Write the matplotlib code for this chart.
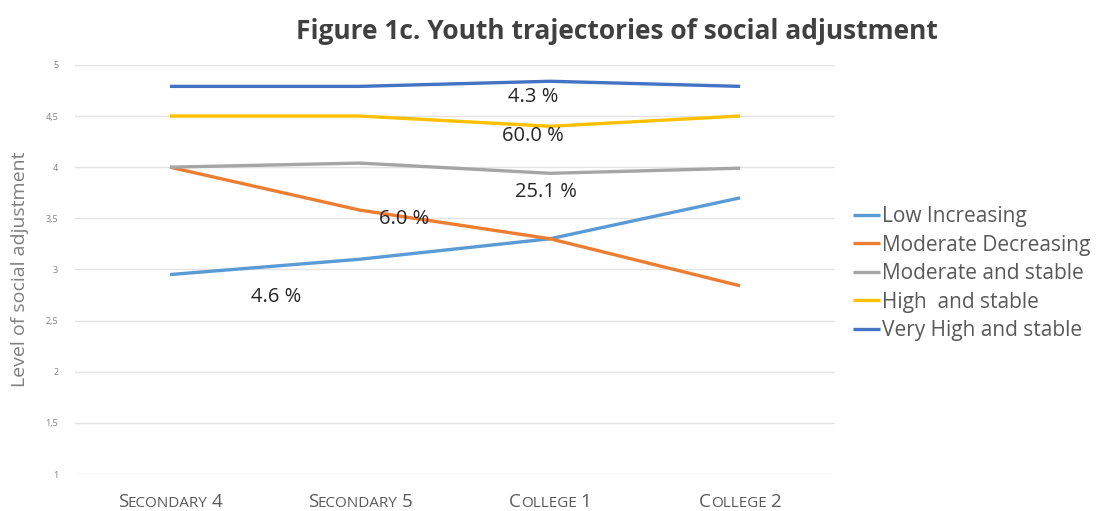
import matplotlib.pyplot as plt
from matplotlib.transforms import IdentityTransform

# data
waves = ["Secondary 4", "Secondary 5", "College 1", "College 2"]
low_increasing = [2.95, 3.10, 3.30, 3.70]
moderate_decreasing = [4.00, 3.58, 3.30, 2.84]
moderate_stable = [4.00, 4.04, 3.94, 3.99]
high_stable = [4.50, 4.50, 4.40, 4.50]
very_high_stable = [4.79, 4.79, 4.84, 4.79]

series_names = ["Low Increasing", "Moderate Decreasing", "Moderate and stable",
                "High  and stable", "Very High and stable"]
series_colors = ["#5B9BD5", "#ED7D31", "#A5A5A5", "#FFC000", "#4472C4"]

# group share labels (text, x position, y position)
share_text = ["4.3 %", "60.0 %", "25.1 %", "6.0 %", "4.6 %"]
share_x = [2.41, 2.41, 2.48, 1.73, 1.06]
share_y = [4.69, 4.30, 3.76, 3.49, 2.73]

yticks = [1, 1.5, 2, 2.5, 3, 3.5, 4, 4.5, 5]

plt.rcParams['font.family'] = ['Open Sans', 'DejaVu Sans']

fig = plt.figure(figsize=(11.18, 5.11), dpi=100)
ax = fig.add_axes([0.067, 0.0724, 0.68, 0.8006])

x = [i + 0.5 for i in range(len(waves))]
all_series = [low_increasing, moderate_decreasing, moderate_stable,
              high_stable, very_high_stable]
for vals, name, col in zip(all_series, series_names, series_colors):
    ax.plot(x, vals, color=col, linewidth=2.4, label=name, solid_capstyle='butt')

for t, sx, sy in zip(share_text, share_x, share_y):
    ax.text(sx, sy, t, ha='center', va='center', fontsize=14.5, color='#262626')

ax.set_xlim(0, 4)
ax.set_ylim(1, 5)
ax.set_yticks(yticks)
ax.set_yticklabels([f"{v:g}".replace(".", ",") for v in yticks],
                   fontsize=6.5, color='#7F7F7F')
ax.set_xticks(x)
ax.set_xticklabels([])
ax.tick_params(axis='both', length=0)
ax.tick_params(axis='y', pad=12)
ax.grid(axis='y', color='#E3E3E3', linewidth=1)
ax.set_axisbelow(True)
for s in ax.spines.values():
    s.set_visible(False)

ax.set_ylabel("Level of social adjustment", fontsize=14, color='#7F7F7F', labelpad=12)

fig.text(0.552, 0.938, "Figure 1c. Youth trajectories of social adjustment",
         ha='center', va='center', fontsize=19, fontweight='bold', color='#404040')

leg = ax.legend(loc='upper left', bbox_to_anchor=(1.012, 0.675), frameon=False,
                fontsize=15, handlelength=1.3, handletextpad=0.1,
                labelspacing=0.36, borderaxespad=0)
for txt in leg.get_texts():
    txt.set_color('#595959')

# small-caps tick labels for the waves, built piece by piece in pixels
renderer = fig.canvas.get_renderer()
big, small = 13.5, 11
baseline_px = 511 - 507
for xi, w in zip(x, waves):
    pieces = []
    for word in w.split(" "):
        if word.isdigit():
            pieces.append((word, big))
        else:
            pieces.append((word[0].upper(), big))
            pieces.append((word[1:].upper(), small))
        pieces.append((" ", small))
    pieces = pieces[:-1]
    arts = []
    widths = []
    for txt, size in pieces:
        a = fig.text(0, baseline_px, txt, fontsize=size, color='#595959',
                     va='baseline', ha='left', transform=IdentityTransform())
        if txt == " ":
            wpx = size * 0.26 * 100 / 72
        else:
            wpx = a.get_window_extent(renderer).width
        arts.append(a)
        widths.append(wpx)
    cx = ax.transData.transform((xi, 1))[0]
    left = cx - sum(widths) / 2
    for a, wpx in zip(arts, widths):
        a.set_x(left)
        left += wpx

fig.savefig("out.png", dpi=100)
